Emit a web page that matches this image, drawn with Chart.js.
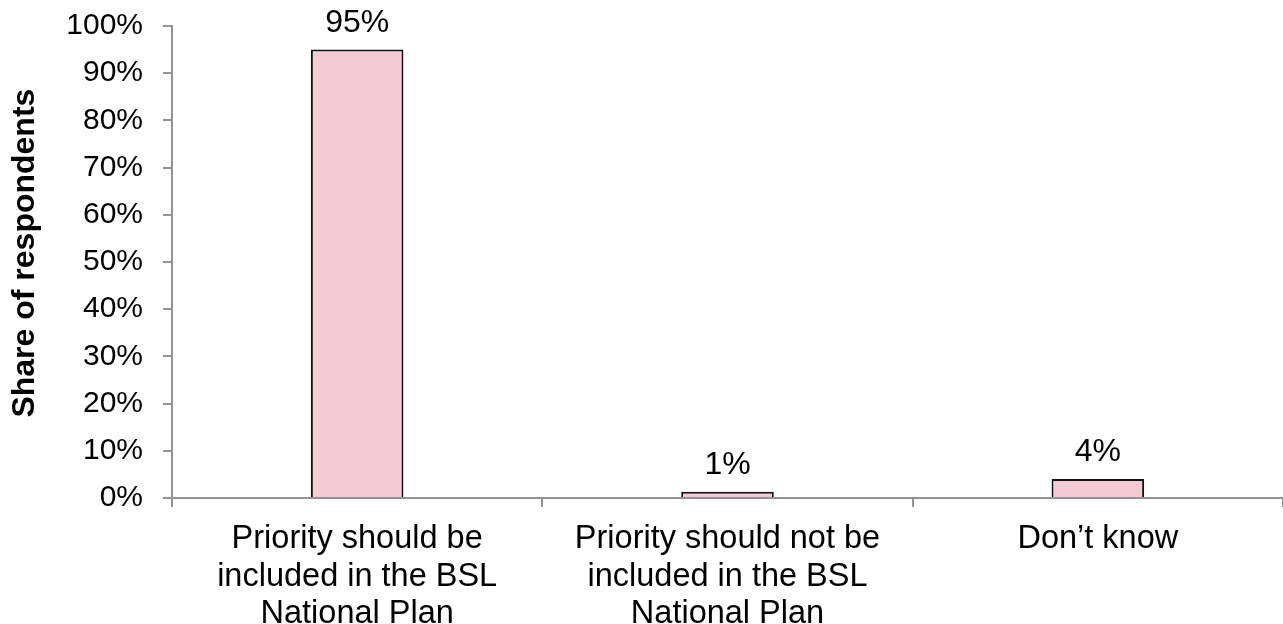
<!DOCTYPE html>
<html>
<head>
<meta charset="utf-8">
<script src="https://cdn.jsdelivr.net/npm/chart.js@4/dist/chart.umd.min.js"></script>
<style>
	html, body { margin: 0; padding: 0; background: #fff; }
	#wrap { width: 1283px; height: 624px; }
</style>
</head>
<body>
<div id="wrap"><canvas id="shareChart"></canvas></div>
<script>
// categories and values
var categories = [
	['Priority should be', 'included in the BSL', 'National Plan'],
	['Priority should not be', 'included in the BSL', 'National Plan'],
	['Don\u2019t know']
];
var shares = [95, 1.3, 4];
var yTicks = [0, 10, 20, 30, 40, 50, 60, 70, 80, 90, 100];

var fontFamily = 'Arial, "Liberation Sans", sans-serif';
var axisGray = '#939393';

// labels above bars
var valueLabels = {
	id: 'valueLabels',
	afterDatasetsDraw: function ( chart ) {
		var ctx = chart.ctx;
		var meta = chart.getDatasetMeta( 0 );
		ctx.save();
		ctx.font = '32px ' + fontFamily;
		ctx.fillStyle = '#000';
		ctx.textAlign = 'center';
		ctx.textBaseline = 'alphabetic';
		meta.data.forEach( function ( bar, i ) {
			ctx.fillText( Math.round( shares[i] ) + '%', bar.x, bar.y - 18 );
		} );
		ctx.restore();
	}
};

var ctx = document.getElementById( 'shareChart' ).getContext( '2d' );
var myChart = new Chart( ctx, {
	type: 'bar',
	data: {
		labels: categories,
		datasets: [
			{
				data: shares,
				backgroundColor: '#f4cbd5',
				borderColor: '#111',
				borderWidth: 2,
				borderSkipped: 'bottom',
				categoryPercentage: 1,
				barPercentage: 0.25
			}
		]
	},
	options: {
		responsive: true,
		maintainAspectRatio: false,
		animation: false,
		layout: { padding: { top: 0, right: 0, bottom: 0, left: 0 } },
		plugins: {
			legend: { display: false },
			tooltip: { enabled: false }
		},
		scales: {
			x: {
				offset: true,
				grid: {
					offset: true,
					drawOnChartArea: false,
					drawTicks: true,
					tickLength: 9,
					color: axisGray,
					lineWidth: 2
				},
				border: { color: axisGray, width: 2 },
				ticks: {
					color: '#000',
					padding: 14,
					maxRotation: 0,
					autoSkip: false,
					font: { family: fontFamily, size: 32.5, lineHeight: 1.14 }
				},
				afterFit: function ( scale ) { scale.height = 126; }
			},
			y: {
				min: 0,
				max: 100,
				afterBuildTicks: function ( scale ) {
					scale.ticks = yTicks.map( function ( v ) { return { value: v }; } );
				},
				grid: {
					drawOnChartArea: false,
					drawTicks: true,
					tickLength: 9,
					color: axisGray,
					lineWidth: 2
				},
				border: { color: axisGray, width: 2 },
				ticks: {
					color: '#000',
					padding: 20,
					// small line height keeps the top label from pushing the plot down
					font: { family: fontFamily, size: 30, lineHeight: 0.4 },
					callback: function ( v ) { return v + '%'; }
				},
				title: {
					display: true,
					text: '  Share of respondents',
					color: '#000',
					padding: { top: 6, bottom: 0 },
					font: { family: fontFamily, size: 32, weight: 'bold' }
				},
				afterFit: function ( scale ) { scale.width = 172; }
			}
		}
	},
	plugins: [valueLabels]
} );
</script>
</body>
</html>
